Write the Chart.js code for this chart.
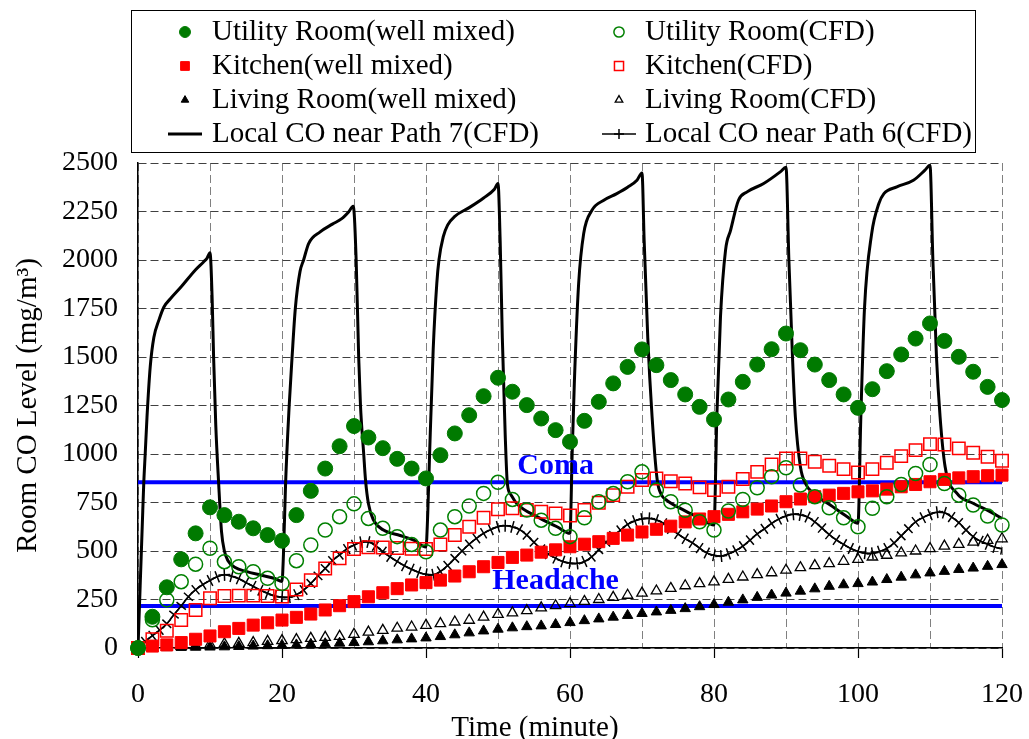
<!DOCTYPE html>
<html>
<head>
<meta charset="utf-8">
<title>Room CO Level</title>
<script src="https://cdn.jsdelivr.net/npm/chart.js@4.4.1/dist/chart.umd.min.js"></script>
<style>
  html, body { margin: 0; padding: 0; background: #fff; }
  #wrap { width: 1029px; height: 739px; }
</style>
</head>
<body>
<div id="wrap"><canvas id="coChart" width="1029" height="739"></canvas></div>
<script>
// sampling times of the room series (minute)
var markerTime = [0, 2, 4, 6, 8, 10, 12, 14, 16, 18, 20, 22, 24, 26, 28, 30, 32, 34, 36, 38, 40,
  42, 44, 46, 48, 50, 52, 54, 56, 58, 60, 62, 64, 66, 68, 70, 72, 74, 76, 78, 80,
  82, 84, 86, 88, 90, 92, 94, 96, 98, 100, 102, 104, 106, 108, 110, 112, 114, 116, 118, 120];

var utilityMixed = [0, 161, 313, 457, 591, 725, 685, 651, 617, 582, 553, 685, 810, 925, 1040, 1144,
  1085, 1030, 975, 925, 874, 994, 1106, 1200, 1298, 1393, 1321, 1252, 1183, 1123, 1063,
  1171, 1269, 1364, 1449, 1539, 1458, 1381, 1307, 1243, 1178, 1281, 1372, 1461, 1540, 1621,
  1535, 1461, 1381, 1307, 1238, 1334, 1427, 1513, 1595, 1673, 1583, 1501, 1424, 1346, 1278];
var utilityCFD = [0, 145, 248, 342, 432, 514, 445, 419, 393, 359, 333, 450, 531, 608, 677, 743,
  668, 617, 574, 534, 496, 608, 677, 732, 797, 854, 766, 711, 659, 617, 574,
  671, 754, 797, 857, 908, 814, 754, 710, 651, 608, 706, 766, 826, 883, 929,
  840, 780, 723, 671, 625, 720, 780, 843, 900, 946, 848, 788, 737, 680, 634];
var kitchenMixed = [0, 10, 16, 28, 45, 62, 84, 101, 118, 130, 144, 158, 175, 196, 218, 239,
  264, 285, 306, 325, 337, 350, 371, 393, 419, 441, 467, 479, 494, 506, 522,
  535, 548, 565, 582, 598, 612, 628, 650, 665, 677, 689, 702, 716, 732, 754,
  768, 780, 788, 797, 805, 810, 819, 831, 843, 857, 869, 877, 883, 888, 891];
var kitchenCFD = [0, 45, 89, 144, 196, 256, 268, 270, 270, 268, 265, 302, 350, 410, 462, 510,
  519, 518, 515, 512, 510, 534, 582, 625, 671, 715, 720, 711, 702, 694, 683,
  711, 749, 788, 831, 866, 874, 860, 848, 828, 814, 831, 871, 908, 946, 977,
  977, 960, 939, 922, 905, 922, 955, 989, 1020, 1051, 1049, 1029, 1006, 986, 965];
var livingMixed = [0, 1, 2, 3, 4, 5, 6, 8, 10, 12, 14, 16, 19, 22, 25, 28,
  32, 37, 42, 47, 52, 59, 68, 78, 88, 97, 104, 110, 114, 121, 131,
  141, 150, 159, 168, 178, 186, 194, 203, 213, 224, 236, 248, 261, 273, 283,
  293, 305, 318, 326, 332, 340, 353, 365, 377, 387, 395, 405, 412, 421, 430];
var livingCFD = [0, 2, 5, 9, 12, 18, 21, 24, 28, 34, 38, 43, 50, 55, 60, 70,
  82, 91, 102, 108, 117, 126, 134, 143, 159, 173, 181, 193, 207, 218, 229,
  240, 250, 261, 272, 283, 294, 307, 321, 332, 341, 354, 366, 378, 388, 401,
  414, 425, 435, 447, 457, 469, 478, 490, 500, 512, 525, 534, 546, 555, 563];

// local CO near path 7 (CFD)
var path7Time = [0, 0.3, 0.6, 0.8, 1.0, 1.25, 1.7, 2.2, 2.9, 3.6, 4.5, 6, 8, 9.1, 9.6, 10,
  10.3, 10.5, 10.8, 11.2, 11.6, 12, 12.5, 13.5, 15, 17, 19, 20,
  20.2, 20.5, 21, 21.4, 21.85, 22.5, 23, 23.7, 25.3, 27, 28.3, 29.25, 29.9,
  30.3, 30.65, 30.9, 31.35, 31.6, 32, 32.7, 34.1, 36.4, 38.3, 40,
  40.25, 40.5, 41, 41.5, 41.8, 42.4, 43, 44, 46, 48, 49.5, 50,
  50.3, 50.6, 51, 51.3, 51.8, 52.6, 55.4, 58.2, 60,
  60.3, 60.6, 61.2, 61.9, 63.05, 64.7, 66.5, 68, 69.3, 70,
  70.3, 70.8, 71.4, 72.1, 72.7, 73.5, 75.8, 78, 80,
  80.4, 80.9, 81.6, 82.3, 83.4, 84.6, 86.9, 89.2, 90,
  90.4, 90.9, 91.3, 92, 92.7, 93.8, 96.15, 98.5, 100,
  100.4, 100.9, 101.9, 102.9, 103.6, 105.4, 107.7, 109.3, 110,
  110.4, 110.9, 111.4, 112.1, 113.75, 116.05, 118.4, 120];
var path7Level = [0, 320, 640, 850, 1000, 1190, 1450, 1600, 1690, 1758, 1800, 1862, 1950, 1990, 2010, 2037,
  1800, 1500, 1150, 850, 600, 500, 450, 415, 395, 376, 358, 343,
  480, 850, 1250, 1500, 1750, 1940, 2000, 2085, 2145, 2185, 2213, 2248, 2277,
  2000, 1500, 1250, 1000, 866, 745, 660, 608, 580, 556, 520,
  700, 1000, 1540, 1880, 2000, 2120, 2180, 2225, 2270, 2320, 2365, 2394,
  2100, 1600, 1100, 848, 790, 745, 677, 625, 591,
  1000, 1364, 1879, 2136, 2256, 2308, 2342, 2375, 2411, 2449,
  2100, 1600, 1192, 870, 790, 760, 711, 670, 634,
  1200, 1707, 2050, 2153, 2308, 2351, 2394, 2454, 2478,
  2000, 1500, 1192, 934, 848, 797, 737, 677, 643,
  1200, 1750, 2136, 2291, 2342, 2377, 2411, 2463, 2488,
  2000, 1500, 1192, 934, 797, 745, 702, 668];

// local CO near path 6 (CFD), one value per minute
var path6Time = [0, 1, 2, 3, 4, 5, 6, 7, 8, 9, 10, 11, 12, 13, 14, 15, 16, 17, 18, 19, 20,
  21, 22, 23, 24, 25, 26, 27, 28, 29, 30, 31, 32, 33, 34, 35, 36, 37, 38, 39, 40,
  41, 42, 43, 44, 45, 46, 47, 48, 49, 50, 51, 52, 53, 54, 55, 56, 57, 58, 59, 60,
  61, 62, 63, 64, 65, 66, 67, 68, 69, 70, 71, 72, 73, 74, 75, 76, 77, 78, 79, 80,
  81, 82, 83, 84, 85, 86, 87, 88, 89, 90, 91, 92, 93, 94, 95, 96, 97, 98, 99, 100,
  101, 102, 103, 104, 105, 106, 107, 108, 109, 110, 111, 112, 113, 114, 115, 116, 117, 118, 119, 120];
var path6Level = [0, 33, 64, 92, 125, 172, 217, 264, 300, 327, 348, 367, 377, 370, 357, 337, 318, 298, 282, 268, 263,
  262, 275, 299, 333, 372, 410, 450, 480, 510, 530,
  545, 546, 527, 497, 470, 446, 424, 406, 390, 380,
  378, 395, 425, 462, 500, 535, 565, 591, 610, 625,
  630, 624, 610, 582, 545, 510, 484, 463, 446, 438,
  436, 446, 470, 507, 545, 578, 607, 637, 655, 665,
  668, 660, 642, 614, 588, 563, 542, 515, 490, 478,
  474, 485, 502, 525, 556, 588, 614, 642, 664, 680,
  689, 686, 675, 650, 618, 585, 557, 534, 513, 498,
  489, 488, 498, 514, 541, 578, 615, 650, 672, 688,
  700, 697, 675, 646, 608, 574, 551, 535, 520, 512];

// threshold lines
var thresholdNames = ['Coma', 'Headache'];
var thresholdLevels = [855, 216];
var thresholdTime = [0, 120];

var xTitle = 'Time (minute)';
var yTitle = 'Room CO Level (mg/m\u00B3)';
var serif = '"Liberation Serif", "Times New Roman", serif';

function pairs(xs, ys) {
  return xs.map(function (x, i) { return {x: x, y: ys[i]}; });
}

// turn the + marks so one arm follows the curve
function crossAngle(ctx) {
  var i = ctx.dataIndex;
  var xs = ctx.chart.scales.x, ys = ctx.chart.scales.y;
  if (i === undefined || !xs || !ys) return 0;
  var a = Math.max(i - 1, 0), b = Math.min(i + 1, path6Level.length - 1);
  var dx = xs.getPixelForValue(path6Time[b]) - xs.getPixelForValue(path6Time[a]);
  var dy = ys.getPixelForValue(path6Level[b]) - ys.getPixelForValue(path6Level[a]);
  return Math.atan2(dy, dx) * 180 / Math.PI;
}

function markers(label, values, style, radius, fill, stroke, width) {
  return {
    label: label,
    data: pairs(markerTime, values),
    showLine: false,
    pointStyle: style,
    pointRadius: radius,
    pointBackgroundColor: fill,
    pointBorderColor: stroke,
    pointBorderWidth: width,
    borderColor: stroke,
    backgroundColor: fill,
    clip: false
  };
}

var datasets = [
  markers('Utility Room(well mixed)', utilityMixed, 'circle', 7.5, '#007a00', '#007a00', 1),
  markers('Utility Room(CFD)', utilityCFD, 'circle', 7, 'rgba(0,0,0,0)', '#008000', 1.5),
  markers('Kitchen(well mixed)', kitchenMixed, 'rect', 8.5, '#ff0000', '#ff0000', 1),
  markers('Kitchen(CFD)', kitchenCFD, 'rect', 8.8, 'rgba(0,0,0,0)', '#ff0000', 1.5),
  markers('Living Room(well mixed)', livingMixed, 'triangle', 6, '#000000', '#000000', 1),
  markers('Living Room(CFD)', livingCFD, 'triangle', 6, 'rgba(0,0,0,0)', '#000000', 1.3),
  {
    label: 'Local CO near Path 7(CFD)',
    data: pairs(path7Time, path7Level),
    showLine: true,
    borderColor: '#000000',
    borderWidth: 3,
    pointRadius: 0,
    cubicInterpolationMode: 'monotone'
  },
  {
    label: 'Local CO near Path 6(CFD)',
    data: pairs(path6Time, path6Level),
    showLine: true,
    borderColor: '#000000',
    borderWidth: 1.5,
    pointStyle: 'cross',
    pointRadius: 6,
    pointBorderWidth: 1.5,
    pointBorderColor: '#000000',
    pointBackgroundColor: '#000000',
    pointRotation: crossAngle,
    cubicInterpolationMode: 'monotone'
  }
];

thresholdLevels.forEach(function (level, i) {
  datasets.push({
    label: thresholdNames[i],
    data: pairs(thresholdTime, [level, level]),
    showLine: true,
    borderColor: '#0000ff',
    borderWidth: 4,
    pointRadius: 0
  });
});

// legend in a box, two columns of four
var legendBox = {
  id: 'legendBox',
  afterDraw: function (chart) {
    var ctx = chart.ctx;
    var order = [0, 2, 4, 6, 1, 3, 5, 7];
    var colMark = [185, 619], colText = [212, 645], rows = [32, 66, 100, 134];
    ctx.save();
    ctx.lineWidth = 1;
    ctx.strokeStyle = '#000';
    ctx.strokeRect(131.5, 10.5, 844, 142);
    ctx.font = '29px ' + serif;
    ctx.textBaseline = 'middle';
    order.forEach(function (idx, k) {
      var ds = chart.data.datasets[idx];
      var col = k < 4 ? 0 : 1, cy = rows[k % 4], cx = colMark[col];
      ctx.save();
      if (ds.showLine) {
        ctx.strokeStyle = ds.borderColor;
        ctx.lineWidth = ds.borderWidth;
        ctx.beginPath();
        ctx.moveTo(cx - 17, cy);
        ctx.lineTo(cx + 17, cy);
        ctx.stroke();
      }
      if (ds.pointRadius > 0) {
        ctx.fillStyle = ds.pointBackgroundColor;
        ctx.strokeStyle = ds.pointBorderColor;
        ctx.lineWidth = ds.pointBorderWidth;
        Chart.helpers.drawPoint(ctx, {
          pointStyle: ds.pointStyle,
          radius: ds.pointStyle === 'cross' ? 5 : ds.pointRadius * 0.73,
          rotation: 0,
          borderWidth: ds.pointBorderWidth
        }, cx, cy);
      }
      ctx.restore();
      ctx.fillStyle = '#000';
      ctx.fillText(ds.label, colText[col], cy);
    });
    ctx.restore();
  }
};

// "Coma" / "Headache" labels above their lines, and the x axis title
var annotations = {
  id: 'annotations',
  afterDraw: function (chart) {
    var ctx = chart.ctx, xs = chart.scales.x, ys = chart.scales.y;
    var lift = [8, 17];
    ctx.save();
    ctx.font = 'bold 30px ' + serif;
    ctx.fillStyle = '#0000ff';
    ctx.textAlign = 'center';
    ctx.textBaseline = 'alphabetic';
    thresholdNames.forEach(function (name, i) {
      ctx.fillText(name, xs.getPixelForValue(58), ys.getPixelForValue(thresholdLevels[i]) - lift[i]);
    });
    ctx.font = '29px ' + serif;
    ctx.fillStyle = '#000';
    ctx.fillText(xTitle, 535, 736);
    ctx.restore();
  }
};

new Chart(document.getElementById('coChart'), {
  type: 'line',
  data: {datasets: datasets},
  plugins: [legendBox, annotations],
  options: {
    responsive: false,
    devicePixelRatio: 1,
    animation: false,
    events: [],
    layout: {padding: {top: 163, right: 27, bottom: 0, left: 0}},
    plugins: {
      legend: {display: false},
      tooltip: {enabled: false}
    },
    scales: {
      x: {
        type: 'linear',
        min: 0,
        max: 120,
        afterFit: function (scale) {
          scale.height = 91;
          scale.paddingLeft = 0;
          scale.paddingRight = 0;
        },
        ticks: {
          stepSize: 10,
          autoSkip: false,
          maxRotation: 0,
          padding: 20,
          color: '#000',
          font: {family: serif, size: 28},
          callback: function (v) { return v % 20 === 0 ? String(v) : ''; }
        },
        grid: {
          color: '#808080',
          lineWidth: 1,
          drawTicks: true,
          tickLength: 10,
          tickBorderDash: [],
          tickWidth: 1.2,
          tickColor: function (c) { return c.tick && c.tick.value % 20 === 0 ? '#000' : 'rgba(0,0,0,0)'; }
        },
        border: {display: true, color: '#000', width: 1.5, dash: [8, 4]}
      },
      y: {
        min: 0,
        max: 2500,
        afterFit: function (scale) { scale.width = 138; },
        ticks: {
          stepSize: 250,
          padding: 20,
          color: '#000',
          font: {family: serif, size: 28},
          callback: function (v) { return String(v); }
        },
        grid: {color: '#404040', lineWidth: 1, drawTicks: false},
        border: {display: true, color: '#000', width: 1.5, dash: [8, 4]},
        title: {
          display: true,
          text: yTitle,
          color: '#000',
          font: {family: serif, size: 29},
          padding: {top: 11, bottom: 0}
        }
      }
    }
  }
});
</script>
</body>
</html>
